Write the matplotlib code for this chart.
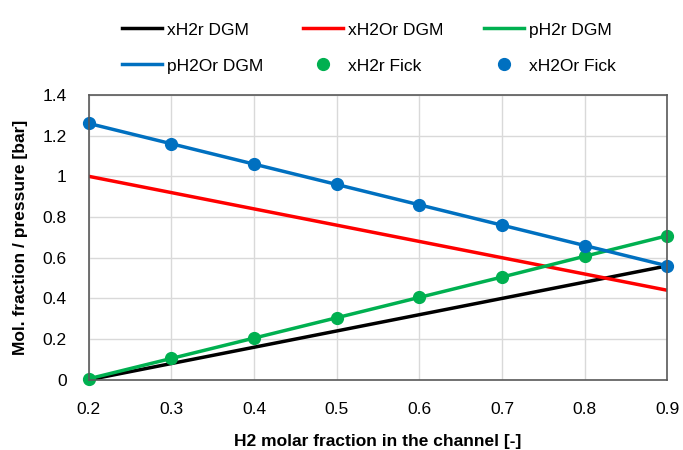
import matplotlib.pyplot as plt
from matplotlib.ticker import FuncFormatter

plt.rcParams['font.family'] = ['Liberation Sans Narrow', 'Liberation Sans', 'DejaVu Sans']

# Data
x_h2 = [0.2, 0.3, 0.4, 0.5, 0.6, 0.7, 0.8, 0.9]
xH2r_dgm = [0.0, 0.08, 0.16, 0.24, 0.32, 0.40, 0.48, 0.56]
xH2Or_dgm = [1.0, 0.92, 0.84, 0.76, 0.68, 0.60, 0.52, 0.44]
pH2r_dgm = [0.005, 0.105, 0.205, 0.305, 0.405, 0.505, 0.607, 0.708]
pH2Or_dgm = [1.26, 1.16, 1.06, 0.96, 0.86, 0.76, 0.66, 0.56]
xH2r_fick = [0.005, 0.105, 0.205, 0.305, 0.405, 0.505, 0.607, 0.708]
xH2Or_fick = [1.26, 1.16, 1.06, 0.96, 0.86, 0.76, 0.66, 0.56]

black = '#000000'
red = '#FF0000'
green = '#00B050'
blue = '#0070C0'

fig = plt.figure(figsize=(6.83, 4.5), dpi=100)
ax = fig.add_axes([0.130, 0.156, 0.847, 0.633])

l1, = ax.plot(x_h2, xH2r_dgm, color=black, lw=2.5, label='xH2r DGM')
l2, = ax.plot(x_h2, xH2Or_dgm, color=red, lw=2.5, label='xH2Or DGM')
l3, = ax.plot(x_h2, pH2r_dgm, color=green, lw=2.5, label='pH2r DGM')
l4, = ax.plot(x_h2, pH2Or_dgm, color=blue, lw=2.5, label='pH2Or DGM')
s1, = ax.plot(x_h2, xH2r_fick, 'o', color=green, ms=8.5, label='xH2r Fick', clip_on=False)
s2, = ax.plot(x_h2, xH2Or_fick, 'o', color=blue, ms=8.5, label='xH2Or Fick', clip_on=False)

ax.set_xlim(0.2, 0.9)
ax.set_ylim(0, 1.4)
ax.set_xticks([0.2, 0.3, 0.4, 0.5, 0.6, 0.7, 0.8, 0.9])
ax.set_yticks([0, 0.2, 0.4, 0.6, 0.8, 1.0, 1.2, 1.4])
fmt = FuncFormatter(lambda v, p: '{:g}'.format(round(v, 2)))
ax.xaxis.set_major_formatter(fmt)
ax.yaxis.set_major_formatter(fmt)
ax.tick_params(axis='x', length=0, labelsize=12.5, pad=16)
ax.tick_params(axis='y', length=0, labelsize=12.5, pad=16)
ax.grid(True, color='#D9D9D9', lw=1)
ax.set_axisbelow(True)
for s in ax.spines.values():
    s.set_color('#595959')
    s.set_linewidth(1.2)

ax.set_xlabel('H2 molar fraction in the channel [-]', fontsize=12.5, fontweight='bold', labelpad=12)
ax.set_ylabel('Mol. fraction / pressure [bar]', fontsize=12.5, fontweight='bold', labelpad=10)

# legend rows like Excel: fill order is column-wise in matplotlib
handles = [l1, l4, l2, s1, l3, s2]
fig.legend(handles, [h.get_label() for h in handles], ncol=3, loc='upper center',
           bbox_to_anchor=(0.54, 0.985), frameon=False, fontsize=12.5,
           handlelength=2.3, handletextpad=0.3, columnspacing=2.3, labelspacing=1.2)

fig.savefig('out.png', dpi=100)
